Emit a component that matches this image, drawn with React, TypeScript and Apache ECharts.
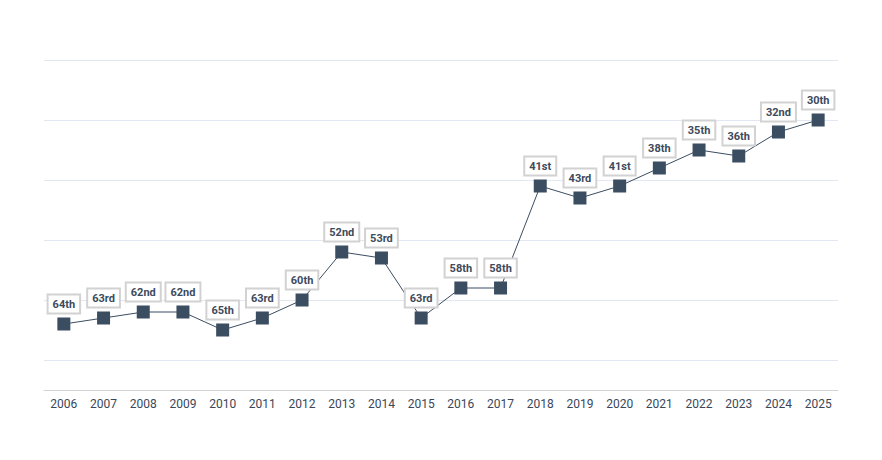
import React, { useEffect, useRef } from "react";
import * as echarts from "echarts";

const years = ["2006","2007","2008","2009","2010","2011","2012","2013","2014","2015","2016","2017","2018","2019","2020","2021","2022","2023","2024","2025"];
const ranks = [64, 63, 62, 62, 65, 63, 60, 52, 53, 63, 58, 58, 41, 43, 41, 38, 35, 36, 32, 30];

function ordinal(n: number): string {
  const m100 = n % 100;
  if (m100 >= 11 && m100 <= 13) return n + "th";
  const m = n % 10;
  if (m === 1) return n + "st";
  if (m === 2) return n + "nd";
  if (m === 3) return n + "rd";
  return n + "th";
}

export default function App() {
  const ref = useRef<HTMLDivElement>(null);
  useEffect(() => {
    document.body.style.margin = "0";
    const chart = echarts.init(ref.current!, null, { renderer: "svg" });
    chart.setOption({
      animation: false,
      backgroundColor: "#ffffff",
      grid: { left: 44, right: 44, top: 60, bottom: 70 },
      xAxis: {
        type: "category",
        data: years,
        boundaryGap: true,
        axisTick: { show: false },
        axisLine: { onZero: false, lineStyle: { color: "#d4d4d4", width: 1 } },
        axisLabel: { color: "#3a4759", fontFamily: "Roboto", fontSize: 12, margin: 8 },
      },
      yAxis: {
        type: "value",
        inverse: true,
        min: 20,
        max: 75,
        interval: 10,
        axisLabel: { show: false },
        axisLine: { show: false },
        axisTick: { show: false },
        splitLine: { lineStyle: { color: "#e3e7f1", width: 1 } },
      },
      series: [
        {
          type: "line",
          data: ranks,
          symbol: "rect",
          symbolSize: 13,
          itemStyle: { color: "#3b4d61" },
          lineStyle: { color: "#3b4d61", width: 1 },
          label: {
            show: true,
            position: "top",
            distance: 5,
            formatter: (p: any) => ordinal(p.value),
            color: "#3d4a5c",
            fontFamily: "Roboto",
            fontWeight: "bold",
            fontSize: 11,
            backgroundColor: "#ffffff",
            borderColor: "#d2d2d2",
            borderWidth: 2,
            padding: [3, 4, 3, 4],
          },
        },
      ],
    });
    return () => chart.dispose();
  }, []);
  return <div ref={ref} style={{ width: 882, height: 460 }} />;
}
